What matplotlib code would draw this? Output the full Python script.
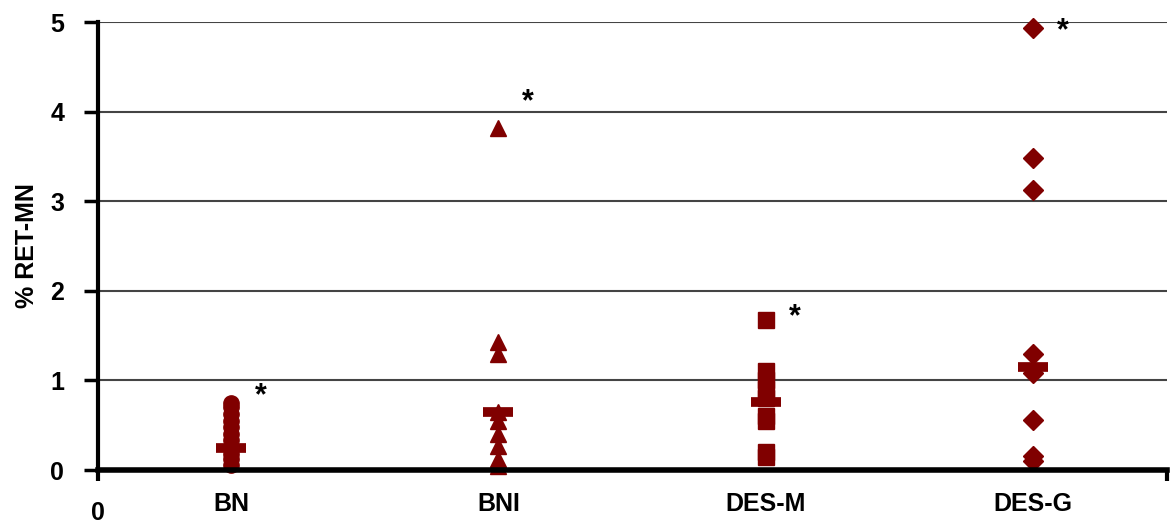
import numpy as np
import matplotlib.pyplot as plt

plt.rcParams['font.family'] = ['Liberation Sans', 'DejaVu Sans']

groups = ["BN", "BNI", "DES-M", "DES-G"]
markers = ["o", "^", "s", "D"]

bn = [0.75, 0.7, 0.62, 0.55, 0.48, 0.4, 0.33, 0.25, 0.18, 0.12, 0.06]
bni = [3.82, 1.43, 1.3, 0.65, 0.55, 0.4, 0.27, 0.12, 0.05]
desm = [1.67, 1.1, 1.0, 0.9, 0.8, 0.6, 0.55, 0.2, 0.15]
desg = [4.93, 3.48, 3.12, 1.3, 1.08, 0.56, 0.16, 0.1]
values = [bn, bni, desm, desg]

means = [0.25, 0.65, 0.76, 1.15]

# significance stars
star_y = [0.82, 4.1, 1.7, 4.9]

red = "#800000"
msizes = {"o": 11, "^": 12, "s": 12, "D": 10}

fig = plt.figure(figsize=(11.75, 5.24), dpi=100)
ax = fig.add_axes([0.083, 0.103, 0.910, 0.855])

for i, (vals, m) in enumerate(zip(values, markers)):
    xpos = np.full(len(vals), i + 0.5)
    ax.plot(xpos, vals, linestyle="none", marker=m, color=red,
            markersize=msizes[m], clip_on=False, zorder=3)
    ax.plot([i + 0.5], [means[i]], linestyle="none", marker="_", color=red,
            markersize=22, markeredgewidth=7, zorder=4)
    ax.text(i + 0.61, star_y[i], "*", fontsize=22, fontweight="bold",
            ha="center", va="center")
    ax.text(i + 0.5, -0.38, groups[i], fontsize=18, fontweight="bold",
            ha="center", va="center")

ax.set_xlim(0, 4)
ax.set_ylim(0, 5)
ax.set_yticks([0, 1, 2, 3, 4, 5])
ax.set_xticks([0, 4])
ax.set_xticklabels(["0", ""])
ax.yaxis.grid(True, color="#444444", linewidth=1.5)
ax.set_axisbelow(True)

for s in ["top", "right"]:
    ax.spines[s].set_visible(False)
ax.spines["left"].set_linewidth(3)
ax.spines["bottom"].set_linewidth(4)
ax.spines["bottom"].set_zorder(5)

ax.tick_params(axis="y", direction="out", length=10, width=2.5, pad=14,
               labelsize=18)
ax.tick_params(axis="x", direction="out", length=8, width=3, pad=14,
               labelsize=18)
for lab in ax.get_xticklabels() + ax.get_yticklabels():
    lab.set_fontweight("bold")

ax.set_ylabel("% RET-MN", fontsize=18, fontweight="bold", labelpad=8)

fig.savefig("out.png", dpi=100)
